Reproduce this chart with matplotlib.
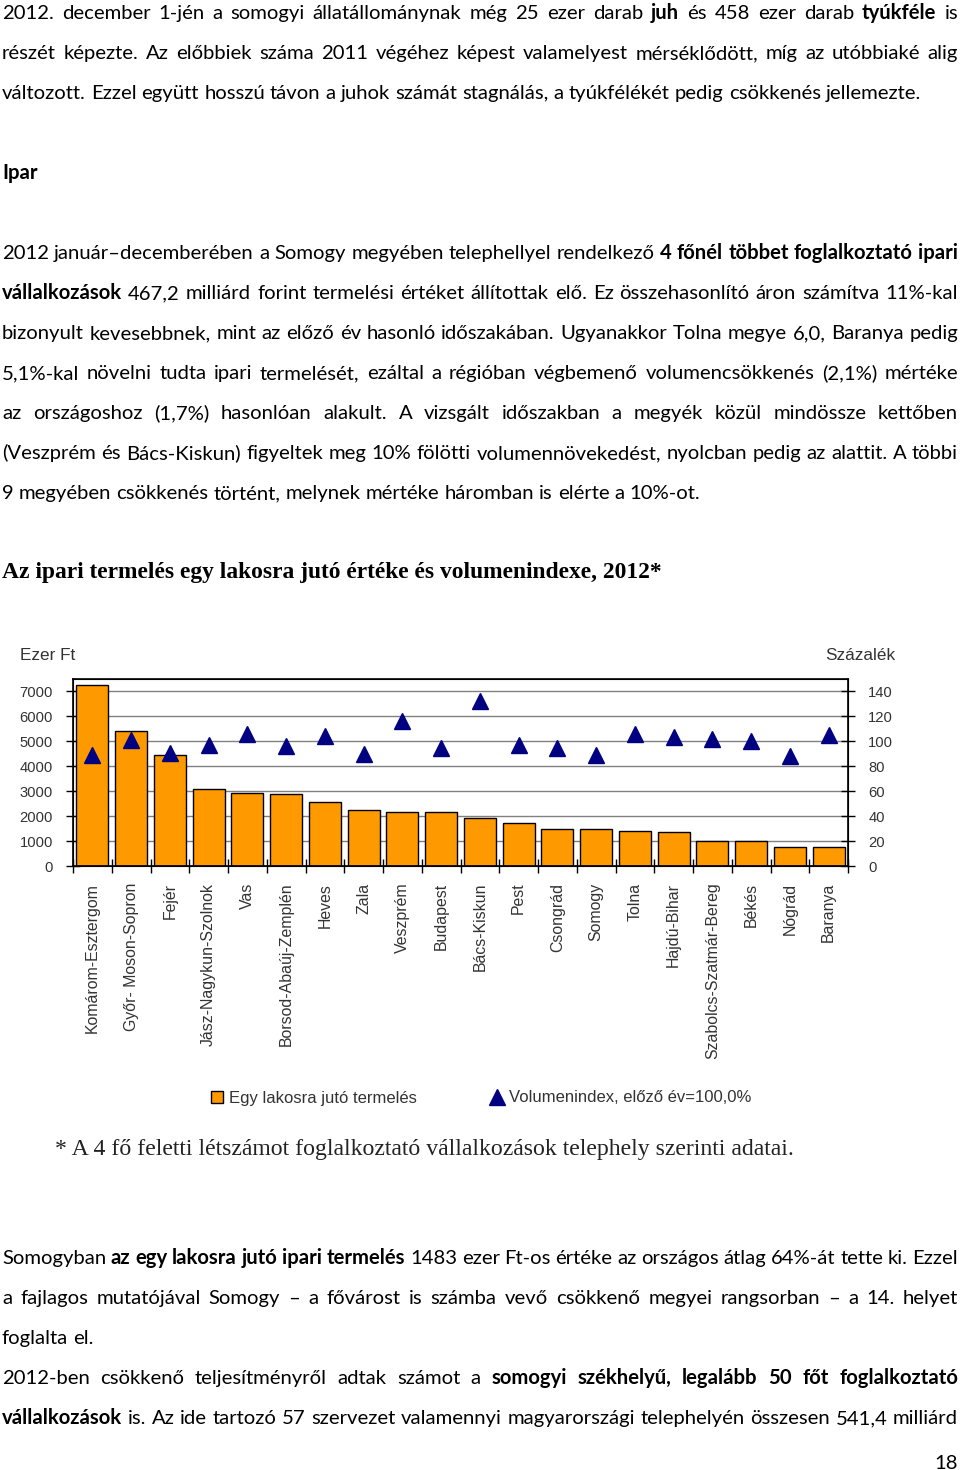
import matplotlib
matplotlib.use('Agg')
import matplotlib.pyplot as plt
from matplotlib import font_manager
from matplotlib.patches import Patch
from matplotlib.lines import Line2D

# chart data
counties = ['Komárom-Esztergom', 'Győr- Moson-Sopron', 'Fejér', 'Jász-Nagykun-Szolnok', 'Vas',
            'Borsod-Abaúj-Zemplén', 'Heves', 'Zala', 'Veszprém', 'Budapest', 'Bács-Kiskun', 'Pest',
            'Csongrád', 'Somogy', 'Tolna', 'Hajdú-Bihar', 'Szabolcs-Szatmár-Bereg', 'Békés', 'Nógrád',
            'Baranya']
per_capita = [7240, 5400, 4440, 3070, 2920, 2880, 2570, 2230, 2170, 2160,
              1920, 1720, 1500, 1483, 1420, 1370, 1000, 1000, 760, 760]
volume = [88.8, 101.4, 90.5, 97.4, 106.2, 95.9, 104.3, 90.1, 116.0, 94.5,
          132.4, 97.4, 94.4, 89.0, 106.0, 103.3, 101.8, 100.4, 88.6, 105.1]
left_ticks = [0, 1000, 2000, 3000, 4000, 5000, 6000, 7000]
right_ticks = [0, 20, 40, 60, 80, 100, 120, 140]

chart_title = 'Az ipari termelés egy lakosra jutó értéke és volumenindexe, 2012*'
footnote = '* A 4 fő feletti létszámot foglalkoztató vállalkozások telephely szerinti adatai.'
legend_labels = ['Egy lakosra jutó termelés', 'Volumenindex, előző év=100,0%']

# page text: (segments, justified)
para1 = [
    ([('2012. december 1-jén a somogyi állatállománynak még 25 ezer darab', False), ('juh', True),
      ('és 458 ezer darab', False), ('tyúkféle', True), ('is', False)], True),
    ([('részét képezte. Az előbbiek száma 2011 végéhez képest valamelyest mérséklődött, míg az utóbbiaké alig', False)], True),
    ([('változott. Ezzel együtt hosszú távon a juhok számát stagnálás, a tyúkfélékét pedig csökkenés jellemezte.', False)], False),
]
heading = [([('Ipar', True)], False)]
para2 = [
    ([('2012 január–decemberében a Somogy megyében telephellyel rendelkező', False),
      ('4 főnél többet foglalkoztató ipari', True)], True),
    ([('vállalkozások', True), ('467,2 milliárd forint termelési értéket állítottak elő. Ez összehasonlító áron számítva 11%-kal', False)], True),
    ([('bizonyult kevesebbnek, mint az előző év hasonló időszakában. Ugyanakkor Tolna megye 6,0, Baranya pedig', False)], True),
    ([('5,1%-kal növelni tudta ipari termelését, ezáltal a régióban végbemenő volumencsökkenés (2,1%) mértéke', False)], True),
    ([('az országoshoz (1,7%) hasonlóan alakult. A vizsgált időszakban a megyék közül mindössze kettőben', False)], True),
    ([('(Veszprém és Bács-Kiskun) figyeltek meg 10% fölötti volumennövekedést, nyolcban pedig az alattit. A többi', False)], True),
    ([('9 megyében csökkenés történt, melynek mértéke háromban is elérte a 10%-ot.', False)], False),
]
para3 = [
    ([('Somogyban', False), ('az egy lakosra jutó ipari termelés', True),
      ('1483 ezer Ft-os értéke az országos átlag 64%-át tette ki. Ezzel', False)], True),
    ([('a fajlagos mutatójával Somogy – a fővárost is számba vevő csökkenő megyei rangsorban – a 14. helyet', False)], True),
    ([('foglalta el.', False)], False),
    ([('2012-ben csökkenő teljesítményről adtak számot a', False),
      ('somogyi székhelyű, legalább 50 főt foglalkoztató', True)], True),
    ([('vállalkozások', True), ('is. Az ide tartozó 57 szervezet valamennyi magyarországi telephelyén összesen 541,4 milliárd', False)], True),
]

W, H = 960, 1470
BODY = ['Lato', 'DejaVu Sans']
SERIF = ['Liberation Serif', 'DejaVu Serif']
GREY = '#333333'

installed = {f.name for f in font_manager.fontManager.ttflist}
if 'Liberation Sans Narrow' in installed:
    SANS, k = ['Liberation Sans Narrow', 'DejaVu Sans'], 1.0
else:
    SANS, k = ['Liberation Sans', 'DejaVu Sans'], 0.82

fig = plt.figure(figsize=(W / 100, H / 100), dpi=100)
renderer = fig.canvas.get_renderer()


def px(x, y):
    return x / W, 1 - y / H


def text_width(s, **kw):
    t = fig.text(0, 0, s, **kw)
    w = t.get_window_extent(renderer).width
    t.remove()
    return w


def fit_size(s, target, **kw):
    return 10 * target / text_width(s, fontsize=10, **kw)


body_size = fit_size(para2[-1][0][0][0], 700, family=BODY)
space = text_width('a a', fontsize=body_size, family=BODY) - text_width('aa', fontsize=body_size, family=BODY)


def draw_line(segments, justify, y, x0=2, x1=958):
    words = [(w, b) for s, b in segments for w in s.split()]
    widths = [text_width(w, fontsize=body_size, family=BODY, fontweight='bold' if b else 'normal')
              for w, b in words]
    gap = (x1 - x0 - sum(widths)) / (len(words) - 1) if justify and len(words) > 1 else space
    x = x0
    for (w, b), wd in zip(words, widths):
        fig.text(*px(x, y), w, fontsize=body_size, family=BODY, va='baseline',
                 fontweight='bold' if b else 'normal', color='black')
        x += wd + gap


for i, (segs, just) in enumerate(para1):
    draw_line(segs, just, 19 + 40 * i)
draw_line(heading[0][0], False, 179)
for i, (segs, just) in enumerate(para2):
    draw_line(segs, just, 259 + 40 * i)
for i, (segs, just) in enumerate(para3):
    draw_line(segs, just, 1264 + 40 * i)
fig.text(*px(958, 1469), '18', fontsize=body_size, family=BODY, ha='right', va='baseline')

title_size = fit_size(chart_title, 665, family=SERIF, fontweight='bold')
fig.text(*px(2, 578), chart_title, fontsize=title_size, family=SERIF, fontweight='bold', va='baseline')
foot_size = fit_size(footnote, 742, family=SERIF)
fig.text(*px(55, 1155), footnote, fontsize=foot_size, family=SERIF, va='baseline', color='#222222')

# chart
ax = fig.add_axes([73 / W, 1 - 866 / H, (848 - 73) / W, (866 - 679) / H])
x = list(range(len(counties)))
ax.bar(x, per_capita, width=0.83, color='#FF9900', edgecolor='black', linewidth=1, zorder=2)
ax.set_xlim(-0.5, len(counties) - 0.5)
ax.set_ylim(0, 7500)
ax.set_yticks(left_ticks)
ax.yaxis.grid(True, color='#808080', linewidth=1)
ax.set_axisbelow(True)
ax.set_xticks([i - 0.5 for i in range(len(counties) + 1)])
ax.set_xticklabels([])
ax.set_xticks(x, minor=True)
ax.set_xticklabels(counties, minor=True, rotation=90, va='top', ha='center',
                   fontsize=14 * k, family=SANS, color=GREY)
ax.tick_params(axis='x', which='major', direction='inout', length=10, width=1)
ax.tick_params(axis='x', which='minor', length=0, pad=12)
ax.tick_params(axis='y', direction='inout', length=10, width=1, pad=9.5,
               labelsize=13 * k, labelcolor=GREY)
for lab in ax.get_yticklabels():
    lab.set_family(SANS)
for sp in ax.spines.values():
    sp.set_linewidth(1.2)

ax2 = ax.twinx()
ax2.plot(x, volume, linestyle='none', marker='^', markersize=11, color='#000080', zorder=3)
ax2.set_ylim(0, 150)
ax2.set_yticks(right_ticks)
ax2.tick_params(axis='y', direction='inout', length=10, width=1, pad=9.5,
                labelsize=13 * k, labelcolor=GREY)
for lab in ax2.get_yticklabels():
    lab.set_family(SANS)

fig.text(*px(20, 656), 'Ezer Ft', fontsize=15 * k, family=SANS, color=GREY, va='center')
fig.text(*px(825, 656), 'Százalék', fontsize=15 * k, family=SANS, color=GREY, va='center')

handles = [Patch(facecolor='#FF9900', edgecolor='black', linewidth=1),
           Line2D([], [], linestyle='none', marker='^', markersize=11, color='#000080')]
leg_size = 14.6 * k
fig.legend(handles, legend_labels, loc='center left', bbox_to_anchor=px(211, 1098), ncol=2,
           frameon=False, borderpad=0, borderaxespad=0, handlelength=0.75, handletextpad=0.35,
           columnspacing=4.4, prop={'family': SANS, 'size': leg_size}, labelcolor=GREY)

fig.savefig('out.png', dpi=100)
